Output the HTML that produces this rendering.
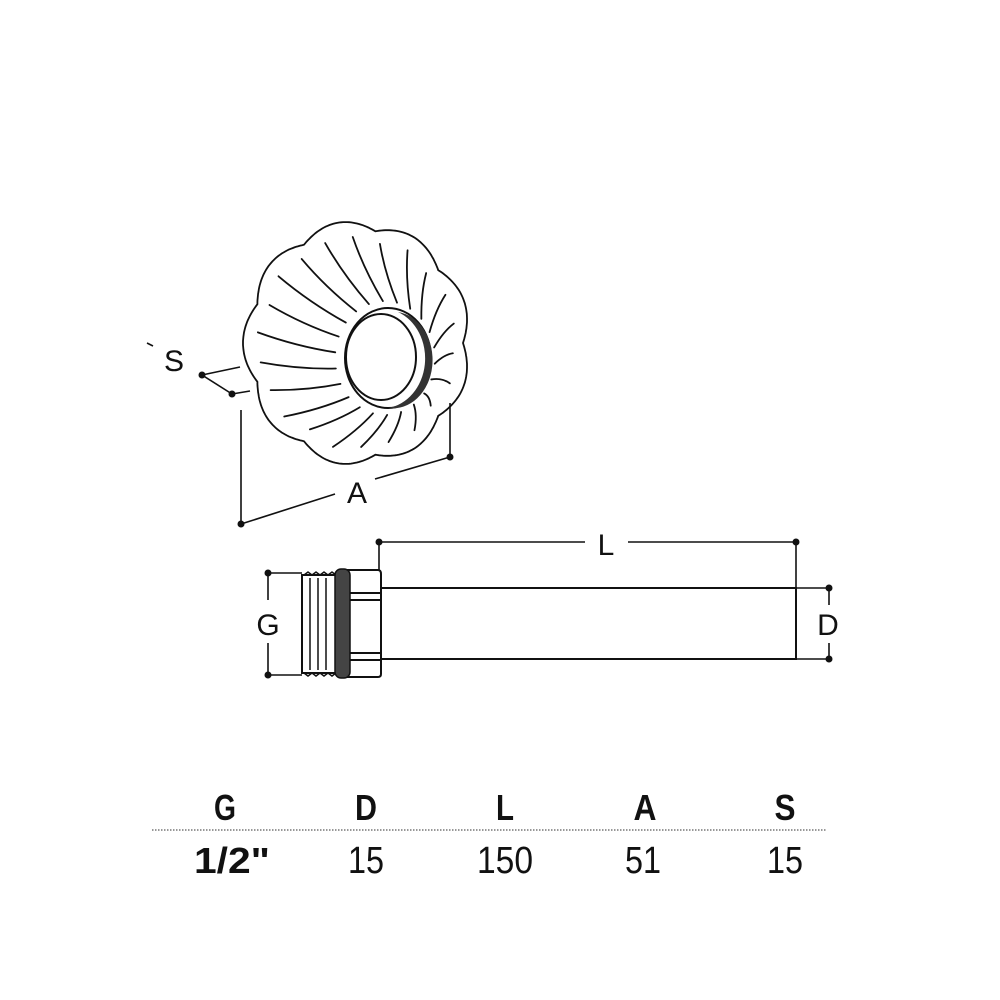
<!DOCTYPE html>
<html><head><meta charset="utf-8"><style>html,body{margin:0;padding:0;background:#fff}svg{display:block}</style></head>
<body>
<svg id="s" width="1000" height="1000" viewBox="0 0 1000 1000" xmlns="http://www.w3.org/2000/svg" font-family="'Liberation Sans Narrow','Liberation Sans',sans-serif">
<g id="knob" fill="none" stroke="#111" stroke-width="1.8" stroke-linecap="round"></g>
<!-- cap -->
<ellipse cx="388" cy="358" rx="43" ry="50" fill="#fff" stroke="#111" stroke-width="2"/>
<path d="M398 312 A43 50 0 0 1 388 408 A36 44 0 0 0 398 312 Z" fill="#333"/>
<ellipse cx="381" cy="357" rx="35" ry="43" fill="#fff" stroke="#111" stroke-width="2"/>
<!-- S dim -->
<g stroke="#111" stroke-width="1.6" fill="none">
<line x1="147" y1="343" x2="153" y2="346"/>
<line x1="202" y1="375" x2="240" y2="367"/>
<line x1="232" y1="394" x2="250" y2="391"/>
<line x1="202" y1="375" x2="232" y2="394"/>
<line x1="241" y1="410" x2="241" y2="524"/>
<line x1="450" y1="403" x2="450" y2="457"/>
<line x1="241" y1="524" x2="335" y2="494"/>
<line x1="375" y1="479" x2="450" y2="457"/>
</g>
<g fill="#111"><circle cx="202" cy="375" r="3.5"/><circle cx="232" cy="394" r="3.5"/><circle cx="241" cy="524" r="3.5"/><circle cx="450" cy="457" r="3.5"/></g>
<text x="174" y="371" font-size="30" text-anchor="middle" fill="#111" font-family="Liberation Sans,sans-serif">S</text>
<text x="357" y="503" font-size="30" text-anchor="middle" fill="#111" font-family="Liberation Sans,sans-serif">A</text>
<!-- pipe -->
<g stroke="#111" stroke-width="2" fill="#fff">
<rect x="380" y="588" width="416" height="71"/>
<path d="M302 575 L336 575 L336 673 L302 673 Z"/>
<path d="M348 570 L378 570 Q381 570 381 574 L381 674 Q381 677 378 677 L348 677 Z"/>
<path d="M348 593 L380 593 M348 600 L380 600 M348 653 L380 653 M348 660 L380 660" fill="none"/>
</g>
<g stroke="#111" stroke-width="1.5" fill="none">
<path d="M304 575 l4 -3 l4 3 l4 -3 l4 3 l4 -3 l4 3 l4 -3 l4 3"/>
<path d="M304 673 l4 3 l4 -3 l4 3 l4 -3 l4 3 l4 -3 l4 3 l4 -3"/>
<line x1="310" y1="578" x2="310" y2="670"/><line x1="318" y1="578" x2="318" y2="670"/><line x1="326" y1="578" x2="326" y2="670"/>
</g>
<rect x="335" y="569" width="15" height="109" rx="6" fill="#444" stroke="#111" stroke-width="1.5"/>
<g stroke="#111" stroke-width="1.6" fill="none">
<line x1="268" y1="573" x2="302" y2="573"/><line x1="268" y1="675" x2="302" y2="675"/>
<line x1="268" y1="573" x2="268" y2="600"/><line x1="268" y1="643" x2="268" y2="675"/>
<line x1="379" y1="542" x2="585" y2="542"/><line x1="628" y1="542" x2="796" y2="542"/>
<line x1="379" y1="542" x2="379" y2="570"/><line x1="796" y1="542" x2="796" y2="588"/>
<line x1="796" y1="588" x2="829" y2="588"/><line x1="796" y1="659" x2="829" y2="659"/>
<line x1="829" y1="588" x2="829" y2="605"/><line x1="829" y1="643" x2="829" y2="659"/>
</g>
<g fill="#111"><circle cx="268" cy="573" r="3.5"/><circle cx="268" cy="675" r="3.5"/><circle cx="379" cy="542" r="3.5"/><circle cx="796" cy="542" r="3.5"/><circle cx="829" cy="588" r="3.5"/><circle cx="829" cy="659" r="3.5"/></g>
<g font-family="Liberation Sans,sans-serif" font-size="30" fill="#111" text-anchor="middle">
<text x="268" y="635">G</text><text x="606" y="555">L</text><text x="828" y="635">D</text>
</g>
<!-- table -->
<line x1="152" y1="830" x2="826" y2="830" stroke="#777" stroke-width="1.5" stroke-dasharray="1.5 1.5"/>
<g font-size="36" fill="#111" text-anchor="middle" font-weight="bold">
<text x="225" y="820" textLength="22" lengthAdjust="spacingAndGlyphs">G</text>
<text x="366" y="820" textLength="22" lengthAdjust="spacingAndGlyphs">D</text>
<text x="505" y="820" textLength="18" lengthAdjust="spacingAndGlyphs">L</text>
<text x="645" y="820" textLength="23" lengthAdjust="spacingAndGlyphs">A</text>
<text x="785" y="820" textLength="21" lengthAdjust="spacingAndGlyphs">S</text>
<text x="232" y="873" textLength="76" lengthAdjust="spacingAndGlyphs">1/2"</text>
</g>
<g font-size="38" fill="#111" text-anchor="middle">
<text x="366" y="873" textLength="36" lengthAdjust="spacingAndGlyphs">15</text>
<text x="505" y="873" textLength="56" lengthAdjust="spacingAndGlyphs">150</text>
<text x="643" y="873" textLength="36" lengthAdjust="spacingAndGlyphs">51</text>
<text x="785" y="873" textLength="36" lengthAdjust="spacingAndGlyphs">15</text>
</g>
</svg>
<script>
(function(){
var g=document.getElementById('knob'),ns='http://www.w3.org/2000/svg';
var cx=357,cy=343,rx=114,ry=122,d='';
function P(t,k){var r=k*(0.93+0.07*Math.abs(Math.sin(4.5*t)));return [cx+rx*r*Math.cos(t),cy+ry*r*Math.sin(t)];}
for(var i=0;i<=360;i++){var t=i*Math.PI/180,p=P(t,1);d+=(i?'L':'M')+p[0].toFixed(1)+' '+p[1].toFixed(1);}
var e=document.createElementNS(ns,'path');e.setAttribute('d',d+'Z');e.setAttribute('fill','#fff');g.appendChild(e);
var ccx=385,ccy=358;
for(var j=0;j<22;j++){var t=j*2*Math.PI/22+0.1;var o=P(t,0.88);
var sx=ccx+50*Math.cos(t),sy=ccy+57*Math.sin(t);
var mx=(sx+o[0])/2+4*Math.sin(t),my=(sy+o[1])/2-4*Math.cos(t);
var l=document.createElementNS(ns,'path');l.setAttribute('d','M'+sx+' '+sy+' Q'+mx+' '+my+' '+o[0]+' '+o[1]);g.appendChild(l);}
})();
</script>
</body></html>
